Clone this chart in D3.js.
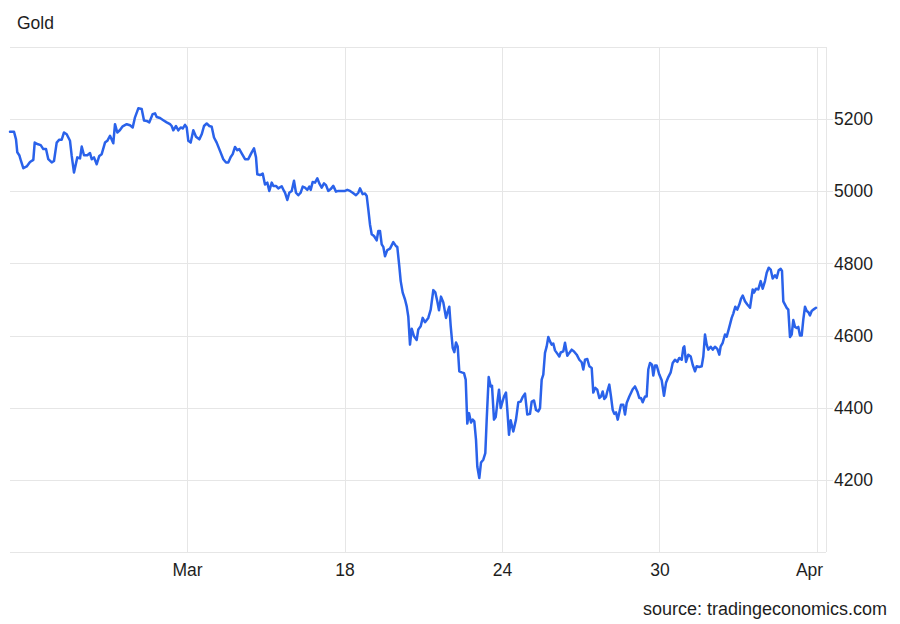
<!DOCTYPE html>
<html>
<head>
<meta charset="utf-8">
<script src="https://cdn.jsdelivr.net/npm/d3@7"></script>
<style>
  html, body { margin: 0; padding: 0; background: #fff; }
  svg { display: block; font-family: "Liberation Sans", Arial, sans-serif; }
</style>
</head>
<body>
<svg id="chart" width="900" height="624"></svg>
<script>
// ---- data (days relative to the "Mar" tick, price in USD) ----
const title = "Gold";
const source = "source: tradingeconomics.com";
const xTickValues = [0, 6, 12, 18, 24];
const xTickLabels = ["Mar", "18", "24", "30", "Apr"];
const yTickValues = [4200, 4400, 4600, 4800, 5000, 5200];
const yGridValues = [4000, 4200, 4400, 4600, 4800, 5000, 5200, 5400];
const xDomain = [-6.743, 24.343];
const yDomain = [4000, 5400];

const times = [
-6.743,-6.590,-6.514,-6.465,-6.389,-6.324,-6.236,-6.107,-5.981,-5.855,-5.802,-5.703,-5.573,-5.474,-5.371,-5.284,-5.154,-5.067,-4.964,-4.865,
-4.773,-4.686,-4.583,-4.457,-4.392,-4.305,-4.179,-4.076,-4.011,-3.924,-3.798,-3.695,-3.630,-3.543,-3.440,-3.341,-3.250,-3.124,-3.036,-2.933,
-2.808,-2.743,-2.655,-2.552,-2.450,-2.297,-2.171,-2.069,-1.981,-1.855,-1.726,-1.638,-1.535,-1.436,-1.307,-1.219,-1.154,-1.029,-0.903,-0.773,
-0.648,-0.583,-0.522,-0.419,-0.331,-0.240,-0.164,-0.076,-0.011,0.050,0.141,0.240,0.343,0.469,0.560,0.648,0.750,0.850,0.941,1.029,
1.131,1.257,1.383,1.486,1.573,1.665,1.741,1.829,1.916,1.992,2.084,2.210,2.335,2.465,2.552,2.629,2.678,2.781,2.884,2.971,
3.059,3.135,3.227,3.288,3.390,3.478,3.608,3.695,3.733,3.821,3.897,3.989,4.076,4.152,4.240,4.331,4.408,4.495,4.583,4.659,
4.712,4.789,4.876,4.964,5.040,5.131,5.219,5.295,5.383,5.474,5.573,5.676,5.764,5.893,6.019,6.107,6.210,6.312,6.438,6.526,
6.590,6.693,6.781,6.846,6.907,6.971,7.036,7.124,7.227,7.288,7.352,7.417,7.478,7.543,7.630,7.733,7.859,7.962,8.011,8.088,
8.141,8.217,8.305,8.370,8.430,8.495,8.560,8.648,8.750,8.811,8.903,8.979,9.067,9.192,9.284,9.383,9.459,9.535,9.600,9.676,
9.764,9.867,9.916,9.992,10.046,10.122,10.183,10.248,10.312,10.373,10.465,10.552,10.617,10.678,10.743,10.819,10.884,10.945,11.010,11.059,
11.135,11.200,11.288,11.364,11.417,11.493,11.570,11.619,11.695,11.760,11.836,11.886,11.950,12.027,12.076,12.152,12.202,12.267,12.331,12.430,
12.533,12.621,12.712,12.789,12.876,12.964,13.067,13.131,13.219,13.295,13.383,13.448,13.512,13.573,13.638,13.703,13.764,13.829,13.893,13.954,
14.019,14.107,14.183,14.236,14.335,14.400,14.488,14.564,14.655,14.743,14.846,14.945,15.036,15.097,15.162,15.250,15.326,15.417,15.478,15.554,
15.630,15.707,15.771,15.836,15.897,15.962,16.011,16.088,16.152,16.217,16.278,16.343,16.408,16.469,16.533,16.621,16.686,16.750,16.850,16.979,
17.067,17.154,17.230,17.295,17.360,17.448,17.512,17.573,17.638,17.714,17.764,17.829,17.893,17.992,18.084,18.171,18.248,18.335,18.427,18.503,
18.590,18.678,18.754,18.846,18.907,18.945,19.010,19.097,19.189,19.265,19.352,19.417,19.516,19.608,19.669,19.733,19.798,19.859,19.950,20.027,
20.114,20.202,20.278,20.331,20.408,20.495,20.560,20.636,20.686,20.750,20.811,20.888,20.964,21.040,21.105,21.170,21.257,21.345,21.448,21.512,
21.550,21.600,21.676,21.764,21.855,21.931,22.019,22.084,22.160,22.236,22.312,22.400,22.465,22.541,22.617,22.667,22.716,22.781,22.846,22.907,
22.971,23.036,23.097,23.162,23.227,23.288,23.352,23.417,23.478,23.543,23.608,23.670,23.733,23.798,23.859,23.962
];

const prices = [
5165,5165,5144,5108,5100,5084,5064,5069,5081,5087,5135,5131,5128,5117,5117,5089,5080,5084,5135,5143,
5143,5163,5158,5140,5098,5052,5094,5091,5124,5100,5100,5106,5089,5094,5075,5098,5103,5135,5140,5154,
5133,5186,5163,5170,5180,5186,5183,5177,5205,5230,5228,5196,5195,5191,5214,5216,5206,5203,5197,5191,
5186,5181,5169,5181,5169,5177,5174,5184,5177,5140,5135,5169,5151,5144,5158,5181,5188,5181,5179,5149,
5135,5112,5089,5080,5080,5095,5103,5123,5114,5117,5105,5089,5089,5108,5119,5094,5047,5045,5049,5019,
5024,5001,5024,5015,5015,5008,5014,5001,4996,4976,4996,5001,5029,4996,4989,4996,5013,5010,5004,5013,
5004,5026,5024,5036,5022,5010,5022,5017,5001,5006,5015,4999,5001,5001,5001,5004,5001,4996,4989,4996,
5008,4992,4994,4987,4950,4908,4881,4876,4864,4890,4890,4853,4846,4820,4837,4841,4859,4848,4846,4792,
4751,4719,4700,4681,4653,4575,4619,4598,4588,4617,4626,4649,4637,4649,4672,4726,4720,4695,4670,4708,
4692,4649,4663,4680,4626,4566,4554,4581,4570,4501,4498,4496,4478,4356,4385,4359,4367,4362,4311,4237,
4205,4248,4256,4274,4367,4485,4459,4461,4367,4374,4422,4450,4399,4419,4431,4442,4394,4325,4365,4334,
4367,4415,4417,4430,4439,4381,4383,4417,4420,4394,4390,4399,4478,4492,4552,4570,4596,4584,4575,4578,
4559,4550,4542,4553,4556,4580,4544,4552,4561,4556,4547,4533,4526,4506,4533,4535,4515,4510,4442,4455,
4450,4427,4431,4445,4424,4430,4445,4464,4431,4394,4383,4387,4367,4387,4408,4408,4381,4413,4431,4451,
4459,4445,4427,4427,4415,4431,4431,4506,4524,4519,4489,4517,4517,4492,4476,4433,4469,4485,4498,4524,
4533,4527,4538,4533,4566,4570,4527,4547,4542,4519,4501,4515,4513,4515,4542,4603,4575,4561,4569,4561,
4569,4563,4547,4570,4580,4603,4597,4617,4631,4649,4661,4680,4672,4686,4702,4711,4695,4686,4677,4709,
4728,4719,4730,4728,4751,4730,4751,4774,4788,4783,4758,4767,4760,4781,4785,4779,4695,4686,4677,4672,
4596,4603,4643,4624,4621,4624,4600,4600,4644,4680,4668,4665,4656,4668,4672,4677
];

// ---- layout ----
const plot = { left: 10, right: 826, top: 47, bottom: 552 };
const svg = d3.select("#chart");

const x = d3.scaleLinear().domain(xDomain).range([plot.left, plot.right]);
const y = d3.scaleLinear().domain(yDomain).range([plot.bottom, plot.top]);

const gridColor = "#e6e6e6";
const textColor = "#1e1e1e";

// horizontal grid lines
svg.append("g").selectAll("line").data(yGridValues).join("line")
  .attr("x1", plot.left)
  .attr("x2", d => (yTickValues.includes(d) ? plot.right + 7 : plot.right))
  .attr("y1", d => Math.round(y(d)) + 0.5)
  .attr("y2", d => Math.round(y(d)) + 0.5)
  .attr("stroke", gridColor).attr("stroke-width", 1);

// vertical grid lines
svg.append("g").selectAll("line").data(xTickValues).join("line")
  .attr("x1", d => Math.round(x(d)) + 0.5)
  .attr("x2", d => Math.round(x(d)) + 0.5)
  .attr("y1", plot.top)
  .attr("y2", plot.bottom)
  .attr("stroke", gridColor).attr("stroke-width", 1);

// right border
svg.append("line")
  .attr("x1", plot.right + 0.5).attr("x2", plot.right + 0.5)
  .attr("y1", plot.top).attr("y2", plot.bottom)
  .attr("stroke", gridColor).attr("stroke-width", 1);

// y axis labels (right)
const yAxis = d3.axisRight(y).tickValues(yTickValues).tickSize(0).tickPadding(0)
  .tickFormat(d3.format("d"));
const yg = svg.append("g").attr("transform", `translate(${plot.right + 8},0)`).call(yAxis);
yg.select(".domain").remove();
yg.selectAll("text")
  .attr("fill", textColor)
  .style("font-size", "17.5px")
  .style("font-family", "'Liberation Sans', Arial, sans-serif");

// x axis labels (bottom)
const xAxis = d3.axisBottom(x).tickValues(xTickValues).tickSize(0).tickPadding(0)
  .tickFormat((d, i) => xTickLabels[i]);
const xg = svg.append("g").attr("transform", `translate(0,${plot.bottom + 12})`).call(xAxis);
xg.select(".domain").remove();
xg.selectAll("text")
  .attr("fill", textColor)
  .attr("dy", "0.71em")
  .style("font-size", "17.5px")
  .style("font-family", "'Liberation Sans', Arial, sans-serif");
xg.selectAll(".tick").filter((d, i) => i === xTickValues.length - 1)
  .select("text").attr("dx", "-8");

// price line
const line = d3.line().x((d, i) => x(times[i])).y((d, i) => y(prices[i]));
svg.append("path")
  .datum(prices)
  .attr("d", line)
  .attr("fill", "none")
  .attr("stroke", "#2a62ea")
  .attr("stroke-width", 2.5)
  .attr("stroke-linejoin", "round")
  .attr("stroke-linecap", "round");

// title
svg.append("text")
  .attr("x", 17).attr("y", 29)
  .attr("fill", textColor)
  .style("font-size", "17.5px")
  .text(title);

// source
svg.append("text")
  .attr("x", 887).attr("y", 615)
  .attr("text-anchor", "end")
  .attr("fill", textColor)
  .style("font-size", "18px")
  .text(source);
</script>
</body>
</html>
